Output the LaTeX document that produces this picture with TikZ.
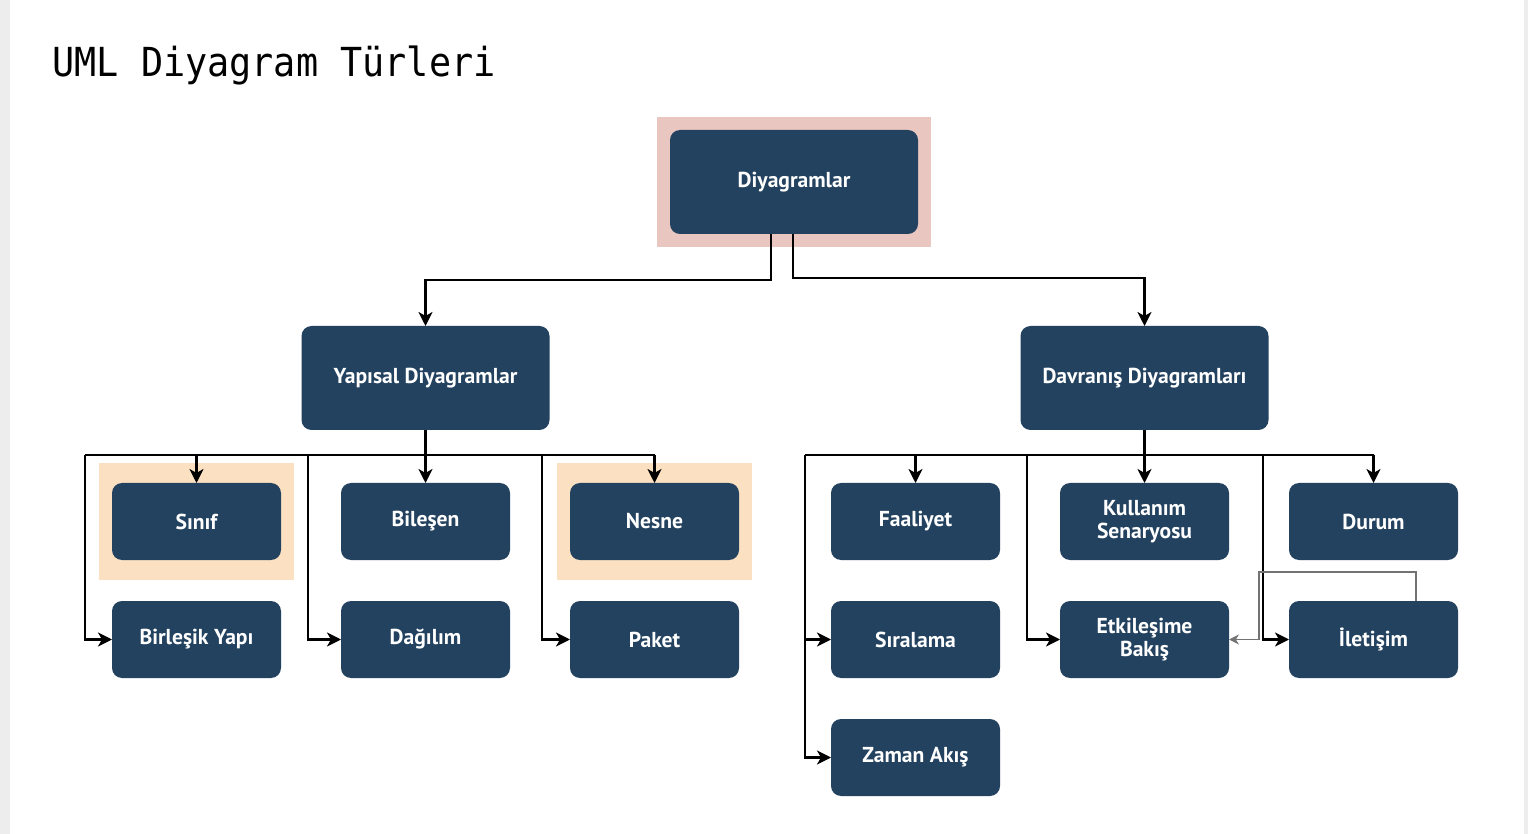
\documentclass[tikz,border=0pt]{standalone}
\usepackage{fontspec}
\setsansfont{PT Sans}
\newfontfamily\titlefont[FakeStretch=0.92]{DejaVu Sans Mono}
\usetikzlibrary{arrows.meta,positioning,fit,backgrounds}
\definecolor{boxblue}{HTML}{23425F}
\definecolor{rootbg}{HTML}{E9C6C0}
\definecolor{notebg}{HTML}{FBE1C2}
\definecolor{framegray}{HTML}{EDEDED}

\begin{document}
\begin{tikzpicture}[x=0.5pt, y=-0.5pt,
        bigblock/.style={rectangle, rounded corners=5pt, fill=boxblue, text=white, outer sep=0pt, minimum height=52pt, minimum width=124pt, align=center, font=\sffamily\bfseries\fontsize{10.8}{11.5}\selectfont},
        block/.style={rectangle, rounded corners=5pt, fill=boxblue, text=white, outer sep=0pt, minimum height=38.5pt, minimum width=84.5pt, align=center, font=\sffamily\bfseries\fontsize{10.8}{11.5}\selectfont},
        arrow/.style={-{Stealth[length=7pt, width=7pt, inset=2pt]}, line width=1.1pt},
        line/.style={line width=1.1pt},
        greyarrow/.style={-{Stealth[length=5pt, width=5pt]}, draw=black!55, line width=0.7pt},
    ]
        \useasboundingbox (0,0) rectangle (1528,834);
        \fill[framegray] (0,0) rectangle (10,834);
        \fill[framegray] (1524,0) rectangle (1528,834);

        % Title
        \node[anchor=base west, inner sep=0pt, font=\titlefont\fontsize{20}{24}\selectfont] (title) at (52,77) {UML Diyagram Türleri};

        % Top level
        \node[bigblock] (root) at (794,182) {Diyagramlar};
        \node[bigblock] (yapisal) at (425.5,378) {Yapısal Diyagramlar};
        \node[bigblock] (davranis) at (1144.5,378) {Davranış Diyagramları};

        % Structural diagrams
        \node[block, below=26.5pt of yapisal] (bilesen) {Bileşen};
        \node[block, left=30pt of bilesen] (sinif) {Sınıf};
        \node[block, right=30pt of bilesen] (nesne) {Nesne};
        \node[block, below=20.5pt of sinif] (birlesik) {Birleşik Yapı};
        \node[block, below=20.5pt of bilesen] (dagilim) {Dağılım};
        \node[block, below=20.5pt of nesne] (paket) {Paket};

        % Behavioural diagrams
        \node[block, below=26.5pt of davranis] (kullanim) {Kullanım\\Senaryosu};
        \node[block, left=30pt of kullanim] (faaliyet) {Faaliyet};
        \node[block, right=30pt of kullanim] (durum) {Durum};
        \node[block, below=20.5pt of faaliyet] (siralama) {Sıralama};
        \node[block, below=20.5pt of kullanim] (etkilesim) {Etkileşime\\Bakış};
        \node[block, below=20.5pt of durum] (iletisim) {İletişim};
        \node[block, below=20.5pt of siralama] (zaman) {Zaman Akış};

        % Highlights
        \begin{scope}[on background layer]
            \node[fill=rootbg, fit=(root), inner sep=6.5pt] (rootmark) {};
            \node[fill=notebg, fit=(sinif), inner xsep=6.5pt, inner ysep=10pt] (sinifmark) {};
            \node[fill=notebg, fit=(nesne), inner xsep=6.5pt, inner ysep=10pt] (nesnemark) {};
        \end{scope}

        % Root to the two groups
        \coordinate (rootl) at (771,280);
        \coordinate (rootr) at (793,278);
        \draw[arrow] (rootl |- root.south) -- (rootl) -| (yapisal);
        \draw[arrow] (rootr |- root.south) -- (rootr) -| (davranis);

        % Structural bus
        \coordinate (lbus) at (85,455);
        \coordinate (lfeed2) at (308,455);
        \coordinate (lfeed3) at (542,455);
        \draw[arrow] (yapisal) -- (bilesen);
        \draw[line] (lbus) -- (lbus -| nesne);
        \draw[arrow] (lbus -| sinif) -- (sinif);
        \draw[arrow] (lbus -| nesne) -- (nesne);
        \draw[arrow] (lbus) |- (birlesik);
        \draw[arrow] (lfeed2) |- (dagilim);
        \draw[arrow] (lfeed3) |- (paket);

        % Behavioural bus
        \coordinate (rbus) at (805,455);
        \coordinate (rfeed2) at (1027,455);
        \coordinate (rfeed3) at (1263,455);
        \draw[arrow] (davranis) -- (kullanim);
        \draw[line] (rbus) -- (rbus -| durum);
        \draw[arrow] (rbus -| faaliyet) -- (faaliyet);
        \draw[arrow] (rbus -| durum) -- (durum);
        \draw[arrow] (rbus) |- (siralama);
        \draw[arrow] (rbus) |- (zaman);
        \draw[arrow] (rfeed2) |- (etkilesim);
        \draw[arrow] (rfeed3) |- (iletisim);

        % Grey link from Iletisim back to Etkilesime Bakis
        \coordinate (gtop) at (1416,572);
        \coordinate (gleft) at (1259,572);
        \draw[greyarrow] (gtop |- iletisim.north) -- (gtop) -- (gleft) |- (etkilesim);

    \end{tikzpicture}
\end{document}
